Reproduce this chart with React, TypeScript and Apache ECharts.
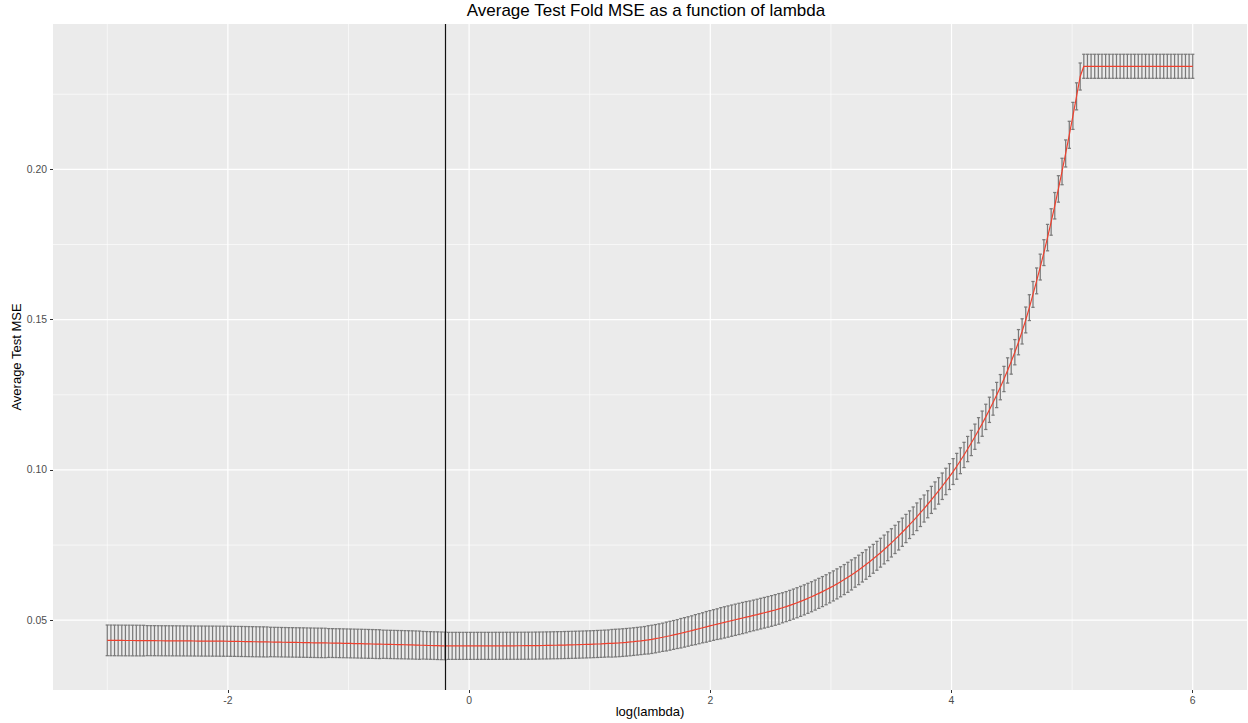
import React, { useEffect, useRef } from "react";
import * as echarts from "echarts";

// grid of log(lambda) values: seq(-3, 6, length.out = 300)
const LOG_LAMBDA_FROM = -3;
const LOG_LAMBDA_TO = 6;
const N_LAMBDA = 300;
const LOG_LAMBDA: number[] = Array.from(
  { length: N_LAMBDA },
  (_, i) => LOG_LAMBDA_FROM + (i * (LOG_LAMBDA_TO - LOG_LAMBDA_FROM)) / (N_LAMBDA - 1)
);

// average test-fold MSE for each lambda
const MSE: number[] = [
  0.04330, 0.04329, 0.04328, 0.04327, 0.04326, 0.04325, 0.04325, 0.04324, 0.04323, 0.04322,
  0.04321, 0.04320, 0.04319, 0.04318, 0.04317, 0.04316, 0.04315, 0.04315, 0.04314, 0.04313,
  0.04312, 0.04311, 0.04310, 0.04309, 0.04308, 0.04307, 0.04306, 0.04305, 0.04305, 0.04304,
  0.04303, 0.04302, 0.04301, 0.04300, 0.04298, 0.04296, 0.04294, 0.04292, 0.04290, 0.04288,
  0.04285, 0.04283, 0.04281, 0.04279, 0.04277, 0.04275, 0.04273, 0.04271, 0.04268, 0.04266,
  0.04264, 0.04262, 0.04260, 0.04258, 0.04256, 0.04254, 0.04251, 0.04249, 0.04247, 0.04245,
  0.04243, 0.04241, 0.04239, 0.04237, 0.04235, 0.04232, 0.04230, 0.04227, 0.04224, 0.04221,
  0.04218, 0.04215, 0.04212, 0.04209, 0.04206, 0.04203, 0.04200, 0.04197, 0.04194, 0.04191,
  0.04188, 0.04186, 0.04183, 0.04180, 0.04177, 0.04173, 0.04169, 0.04166, 0.04162, 0.04159,
  0.04155, 0.04152, 0.04148, 0.04145, 0.04146, 0.04146, 0.04146, 0.04146, 0.04146, 0.04146,
  0.04146, 0.04146, 0.04147, 0.04147, 0.04147, 0.04147, 0.04147, 0.04148, 0.04148, 0.04148,
  0.04149, 0.04149, 0.04149, 0.04150, 0.04150, 0.04151, 0.04152, 0.04153, 0.04155, 0.04157,
  0.04159, 0.04161, 0.04163, 0.04166, 0.04168, 0.04171, 0.04174, 0.04177, 0.04180, 0.04183,
  0.04187, 0.04191, 0.04195, 0.04199, 0.04204, 0.04209, 0.04214, 0.04220, 0.04226, 0.04232,
  0.04239, 0.04246, 0.04255, 0.04265, 0.04276, 0.04288, 0.04301, 0.04315, 0.04330, 0.04346,
  0.04363, 0.04385, 0.04408, 0.04432, 0.04457, 0.04483, 0.04510, 0.04538, 0.04566, 0.04595,
  0.04625, 0.04655, 0.04686, 0.04717, 0.04748, 0.04779, 0.04810, 0.04840, 0.04869, 0.04898,
  0.04927, 0.04956, 0.04985, 0.05014, 0.05043, 0.05072, 0.05101, 0.05130, 0.05159, 0.05188,
  0.05218, 0.05248, 0.05278, 0.05308, 0.05341, 0.05376, 0.05413, 0.05452, 0.05493, 0.05536,
  0.05581, 0.05628, 0.05677, 0.05728, 0.05781, 0.05836, 0.05893, 0.05952, 0.06013, 0.06076,
  0.06141, 0.06208, 0.06278, 0.06351, 0.06427, 0.06506, 0.06588, 0.06673, 0.06761, 0.06852,
  0.06946, 0.07043, 0.07143, 0.07246, 0.07352, 0.07461, 0.07573, 0.07688, 0.07806, 0.07927,
  0.08051, 0.08178, 0.08308, 0.08441, 0.08577, 0.08716, 0.08858, 0.09003, 0.09151, 0.09302,
  0.09457, 0.09616, 0.09779, 0.09946, 0.10121, 0.10306, 0.10498, 0.10695, 0.10897, 0.11105,
  0.11319, 0.11539, 0.11766, 0.12000, 0.12242, 0.12493, 0.12754, 0.13026, 0.13310, 0.13607,
  0.13917, 0.14250, 0.14610, 0.14990, 0.15400, 0.15840, 0.16290, 0.16750, 0.17230, 0.17730,
  0.18250, 0.18790, 0.19350, 0.19930, 0.20530, 0.21150, 0.21780, 0.22430, 0.23090, 0.23430,
  0.23430, 0.23430, 0.23430, 0.23430, 0.23430, 0.23430, 0.23430, 0.23430, 0.23430, 0.23430,
  0.23430, 0.23430, 0.23430, 0.23430, 0.23430, 0.23430, 0.23430, 0.23430, 0.23430, 0.23430,
  0.23430, 0.23430, 0.23430, 0.23430, 0.23430, 0.23430, 0.23430, 0.23430, 0.23430, 0.23430,
];

// standard error (half length of each error bar)
const SE: number[] = [
  0.0051, 0.0051, 0.0051, 0.0051, 0.0051, 0.0051, 0.0051, 0.0051, 0.0051, 0.0051,
  0.0051, 0.0050, 0.0050, 0.0050, 0.0050, 0.0050, 0.0050, 0.0050, 0.0050, 0.0050,
  0.0050, 0.0050, 0.0050, 0.0050, 0.0050, 0.0050, 0.0050, 0.0050, 0.0050, 0.0050,
  0.0050, 0.0050, 0.0050, 0.0050, 0.0050, 0.0050, 0.0050, 0.0050, 0.0050, 0.0050,
  0.0050, 0.0050, 0.0050, 0.0050, 0.0050, 0.0049, 0.0049, 0.0049, 0.0049, 0.0049,
  0.0049, 0.0049, 0.0049, 0.0049, 0.0049, 0.0049, 0.0049, 0.0049, 0.0049, 0.0049,
  0.0049, 0.0048, 0.0048, 0.0048, 0.0048, 0.0048, 0.0048, 0.0048, 0.0048, 0.0048,
  0.0048, 0.0048, 0.0048, 0.0048, 0.0048, 0.0048, 0.0047, 0.0047, 0.0047, 0.0047,
  0.0047, 0.0047, 0.0047, 0.0047, 0.0047, 0.0047, 0.0047, 0.0046, 0.0046, 0.0046,
  0.0046, 0.0046, 0.0046, 0.0046, 0.0045, 0.0045, 0.0045, 0.0045, 0.0045, 0.0045,
  0.0045, 0.0045, 0.0045, 0.0045, 0.0045, 0.0045, 0.0045, 0.0045, 0.0045, 0.0045,
  0.0045, 0.0045, 0.0045, 0.0045, 0.0045, 0.0045, 0.0045, 0.0045, 0.0045, 0.0045,
  0.0045, 0.0045, 0.0045, 0.0045, 0.0045, 0.0045, 0.0045, 0.0045, 0.0045, 0.0045,
  0.0045, 0.0045, 0.0045, 0.0045, 0.0045, 0.0045, 0.0045, 0.0045, 0.0045, 0.0046,
  0.0046, 0.0046, 0.0046, 0.0046, 0.0046, 0.0046, 0.0046, 0.0046, 0.0046, 0.0047,
  0.0047, 0.0047, 0.0047, 0.0047, 0.0048, 0.0048, 0.0048, 0.0048, 0.0049, 0.0049,
  0.0049, 0.0049, 0.0050, 0.0050, 0.0050, 0.0051, 0.0051, 0.0051, 0.0051, 0.0052,
  0.0052, 0.0052, 0.0052, 0.0052, 0.0052, 0.0052, 0.0052, 0.0051, 0.0051, 0.0051,
  0.0051, 0.0051, 0.0051, 0.0051, 0.0051, 0.0051, 0.0050, 0.0050, 0.0050, 0.0050,
  0.0050, 0.0050, 0.0050, 0.0050, 0.0050, 0.0050, 0.0050, 0.0050, 0.0050, 0.0050,
  0.0050, 0.0050, 0.0050, 0.0050, 0.0050, 0.0050, 0.0049, 0.0049, 0.0049, 0.0049,
  0.0049, 0.0048, 0.0048, 0.0048, 0.0048, 0.0048, 0.0047, 0.0047, 0.0047, 0.0047,
  0.0047, 0.0046, 0.0046, 0.0046, 0.0046, 0.0045, 0.0045, 0.0045, 0.0045, 0.0044,
  0.0044, 0.0044, 0.0043, 0.0043, 0.0043, 0.0043, 0.0042, 0.0042, 0.0042, 0.0042,
  0.0042, 0.0042, 0.0042, 0.0042, 0.0042, 0.0042, 0.0042, 0.0042, 0.0042, 0.0042,
  0.0042, 0.0042, 0.0042, 0.0043, 0.0043, 0.0043, 0.0043, 0.0043, 0.0043, 0.0044,
  0.0044, 0.0044, 0.0044, 0.0044, 0.0045, 0.0045, 0.0045, 0.0045, 0.0045, 0.0040,
  0.0040, 0.0040, 0.0040, 0.0040, 0.0040, 0.0040, 0.0040, 0.0040, 0.0040, 0.0040,
  0.0040, 0.0040, 0.0040, 0.0040, 0.0040, 0.0040, 0.0040, 0.0040, 0.0040, 0.0040,
  0.0040, 0.0040, 0.0040, 0.0040, 0.0040, 0.0040, 0.0040, 0.0040, 0.0040, 0.0040,
];

const X_MAJOR = [-2, 0, 2, 4, 6];
const X_MINOR = [-3, -1, 1, 3, 5];
const Y_MAJOR = [0.05, 0.1, 0.15, 0.2];
const Y_MINOR = [0.075, 0.125, 0.175, 0.225];

const TITLE = "Average Test Fold MSE as a function of lambda";
const X_TITLE = "log(lambda)";
const Y_TITLE = "Average Test MSE";

const FONT = "Liberation Sans, Arial, Helvetica, sans-serif";
const PANEL_BG = "#EBEBEB";
const BAR_COLOR = "#7a7a7a";
const LINE_COLOR = "#F0402E";

export default function App() {
  const ref = useRef<HTMLDivElement>(null);

  useEffect(() => {
    if (!ref.current) return;
    const chart = echarts.init(ref.current, undefined, { renderer: "svg" });

    const lower = MSE.map((m, i) => m - SE[i]);
    const upper = MSE.map((m, i) => m + SE[i]);
    const xRange = LOG_LAMBDA_TO - LOG_LAMBDA_FROM;
    const xMin = LOG_LAMBDA_FROM - 0.05 * xRange;
    const xMax = LOG_LAMBDA_TO + 0.05 * xRange;
    const yLo = Math.min(...lower);
    const yHi = Math.max(...upper);
    const yMin = yLo - 0.05 * (yHi - yLo);
    const yMax = yHi + 0.05 * (yHi - yLo);
    const step = xRange / (N_LAMBDA - 1);

    let best = 0;
    MSE.forEach((m, i) => {
      if (m < MSE[best]) best = i;
    });
    const bestX = LOG_LAMBDA[best];

    const vGrid = (values: number[], width: number, z: number) => ({
      type: "custom",
      silent: true,
      z,
      data: values.map((v) => [v, yMin]),
      encode: { x: 0, y: 1 },
      renderItem: (params: any, api: any) => {
        const cs = params.coordSys;
        const x = api.coord([api.value(0), yMin])[0];
        return {
          type: "line",
          shape: { x1: x, y1: cs.y, x2: x, y2: cs.y + cs.height },
          style: { stroke: "#ffffff", lineWidth: width },
        };
      },
    });
    const hGrid = (values: number[], width: number, z: number) => ({
      type: "custom",
      silent: true,
      z,
      data: values.map((v) => [xMin, v]),
      encode: { x: 0, y: 1 },
      renderItem: (params: any, api: any) => {
        const cs = params.coordSys;
        const y = api.coord([xMin, api.value(1)])[1];
        return {
          type: "line",
          shape: { x1: cs.x, y1: y, x2: cs.x + cs.width, y2: y },
          style: { stroke: "#ffffff", lineWidth: width },
        };
      },
    });

    const option: any = {
      animation: false,
      backgroundColor: "#ffffff",
      textStyle: { fontFamily: FONT },
      title: {
        text: TITLE,
        left: 646,
        top: 2,
        padding: 0,
        textAlign: "center",
        textStyle: { fontFamily: FONT, fontSize: 17, fontWeight: "normal", color: "#000000" },
      },
      grid: {
        left: 53,
        right: 1,
        top: 24,
        bottom: 31,
        show: true,
        backgroundColor: PANEL_BG,
        borderWidth: 0,
      },
      xAxis: {
        type: "value",
        min: xMin,
        max: xMax,
        name: X_TITLE,
        nameLocation: "middle",
        nameGap: 15,
        nameMoveOverlap: false,
        nameTextStyle: { fontFamily: FONT, fontSize: 13, color: "#000000" },
        axisLine: { show: false, onZero: false },
        splitLine: { show: false },
        axisTick: {
          show: true,
          customValues: X_MAJOR,
          length: 3,
          lineStyle: { color: "#333333", width: 1 },
        },
        axisLabel: {
          customValues: X_MAJOR,
          formatter: (v: number) => String(v),
          color: "#4D4D4D",
          fontSize: 10.4,
          margin: 5,
          fontFamily: FONT,
        },
      },
      yAxis: {
        type: "value",
        min: yMin,
        max: yMax,
        name: Y_TITLE,
        nameLocation: "middle",
        nameGap: 30,
        nameRotate: 90,
        nameMoveOverlap: false,
        nameTextStyle: { fontFamily: FONT, fontSize: 13, color: "#000000" },
        axisLine: { show: false, onZero: false },
        splitLine: { show: false },
        axisTick: {
          show: true,
          customValues: Y_MAJOR,
          length: 3,
          lineStyle: { color: "#333333", width: 1 },
        },
        axisLabel: {
          customValues: Y_MAJOR,
          formatter: (v: number) => v.toFixed(2),
          color: "#4D4D4D",
          fontSize: 10.4,
          margin: 6,
          fontFamily: FONT,
        },
      },
      series: [
        vGrid(X_MINOR, 0.6, 1),
        hGrid(Y_MINOR, 0.6, 1),
        vGrid(X_MAJOR, 1.2, 1),
        hGrid(Y_MAJOR, 1.2, 1),
        {
          type: "custom",
          name: "errorbars",
          silent: true,
          z: 2,
          data: LOG_LAMBDA.map((x, i) => [x, lower[i], upper[i]]),
          encode: { x: 0, y: [1, 2] },
          renderItem: (_params: any, api: any) => {
            const x = api.value(0);
            const pLo = api.coord([x, api.value(1)]);
            const pHi = api.coord([x, api.value(2)]);
            const half = api.size([step, 0])[0] * 0.45;
            const style = { stroke: BAR_COLOR, lineWidth: 1.25 };
            return {
              type: "group",
              children: [
                { type: "line", shape: { x1: pLo[0], y1: pLo[1], x2: pHi[0], y2: pHi[1] }, style },
                { type: "line", shape: { x1: pHi[0] - half, y1: pHi[1], x2: pHi[0] + half, y2: pHi[1] }, style },
                { type: "line", shape: { x1: pLo[0] - half, y1: pLo[1], x2: pLo[0] + half, y2: pLo[1] }, style },
              ],
            };
          },
        },
        {
          type: "line",
          name: "mse",
          z: 3,
          silent: true,
          showSymbol: false,
          symbol: "none",
          emphasis: { disabled: true },
          data: LOG_LAMBDA.map((x, i) => [x, MSE[i]]),
          lineStyle: { color: LINE_COLOR, width: 1.2 },
          markLine: {
            silent: true,
            symbol: ["none", "none"],
            label: { show: false },
            lineStyle: { color: "#111111", width: 1.2, type: "solid" },
            data: [{ xAxis: bestX }],
          },
        },
      ],
    };

    chart.setOption(option);
    return () => chart.dispose();
  }, []);

  return (
    <div
      ref={ref}
      style={{ position: "absolute", left: 0, top: 0, width: 1248, height: 723, background: "#fff" }}
    />
  );
}
